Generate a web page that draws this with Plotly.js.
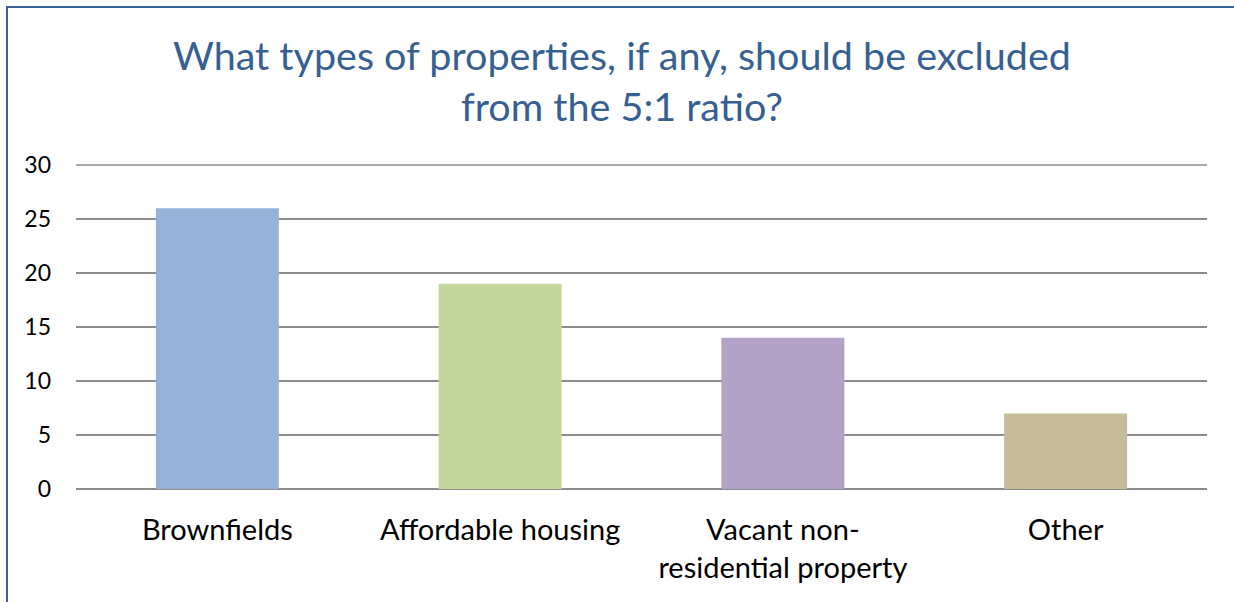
<!DOCTYPE html>
<html>
<head>
<meta charset="utf-8">
<script src="https://cdn.plot.ly/plotly-3.0.1.min.js"></script>
<style>
html,body{margin:0;padding:0;background:#fff;overflow:hidden;}
#wrap{position:relative;width:1234px;height:602px;overflow:hidden;}
#chart{position:absolute;left:0;top:0;width:1234px;height:602px;}
#frame{position:absolute;left:6px;top:6px;width:1260px;height:640px;border:2.5px solid #3B6296;box-sizing:border-box;pointer-events:none;}
</style>
</head>
<body>
<div id="wrap"><div id="chart"></div><div id="frame"></div></div>
<script>
const categories = ["Brownfields", "Affordable housing", "Vacant non-<br>residential property", "Other"];
const values = [26, 19, 14, 7];
const barColors = ["#95B3D7", "#C3D69B", "#B2A2C7", "#C4BD97"];
const yTicks = [0, 5, 10, 15, 20, 25, 30];
const yMax = 30;

const data = [{
  type: "bar",
  x: categories,
  y: values,
  marker: {color: barColors, line: {width: 0}},
  hoverinfo: "skip"
}];

const layout = {
  width: 1234, height: 602,
  margin: {l: 76, r: 27, t: 165, b: 113},
  paper_bgcolor: "#ffffff",
  plot_bgcolor: "#ffffff",
  showlegend: false,
  bargap: 0.565,
  title: {
    text: "What types of properties, if any, should be excluded<br>from the 5:1 ratio?",
    font: {family: "Lato, 'Open Sans', sans-serif", size: 39.5, color: "#376092"},
    x: 0.504, xanchor: "center",
    yref: "container",
    y: 1 - 70 / 602, yanchor: "middle"
  },
  font: {family: "Lato, 'Open Sans', sans-serif", color: "#000000"},
  xaxis: {
    type: "category",
    tickfont: {size: 29, color: "#000000"},
    showgrid: false,
    showline: false,
    ticks: "",
    ticklabelstandoff: 21,
    zeroline: false
  },
  yaxis: {
    range: [0, yMax],
    tickvals: yTicks,
    ticktext: yTicks.map(String),
    tickfont: {size: 23, color: "#000000"},
    showgrid: true,
    gridcolor: "#8C8C8C",
    gridwidth: 1.5,
    zeroline: true,
    zerolinecolor: "#8C8C8C",
    zerolinewidth: 1.5,
    showline: false,
    ticks: "",
    ticklabelstandoff: 24
  },
  shapes: [{
    type: "line", layer: "below",
    xref: "paper", x0: 0, x1: 1,
    yref: "paper", y0: 1, y1: 1,
    line: {color: "#8C8C8C", width: 1.5}
  }]
};

Plotly.newPlot("chart", data, layout, {staticPlot: true, displayModeBar: false});
</script>
</body>
</html>
